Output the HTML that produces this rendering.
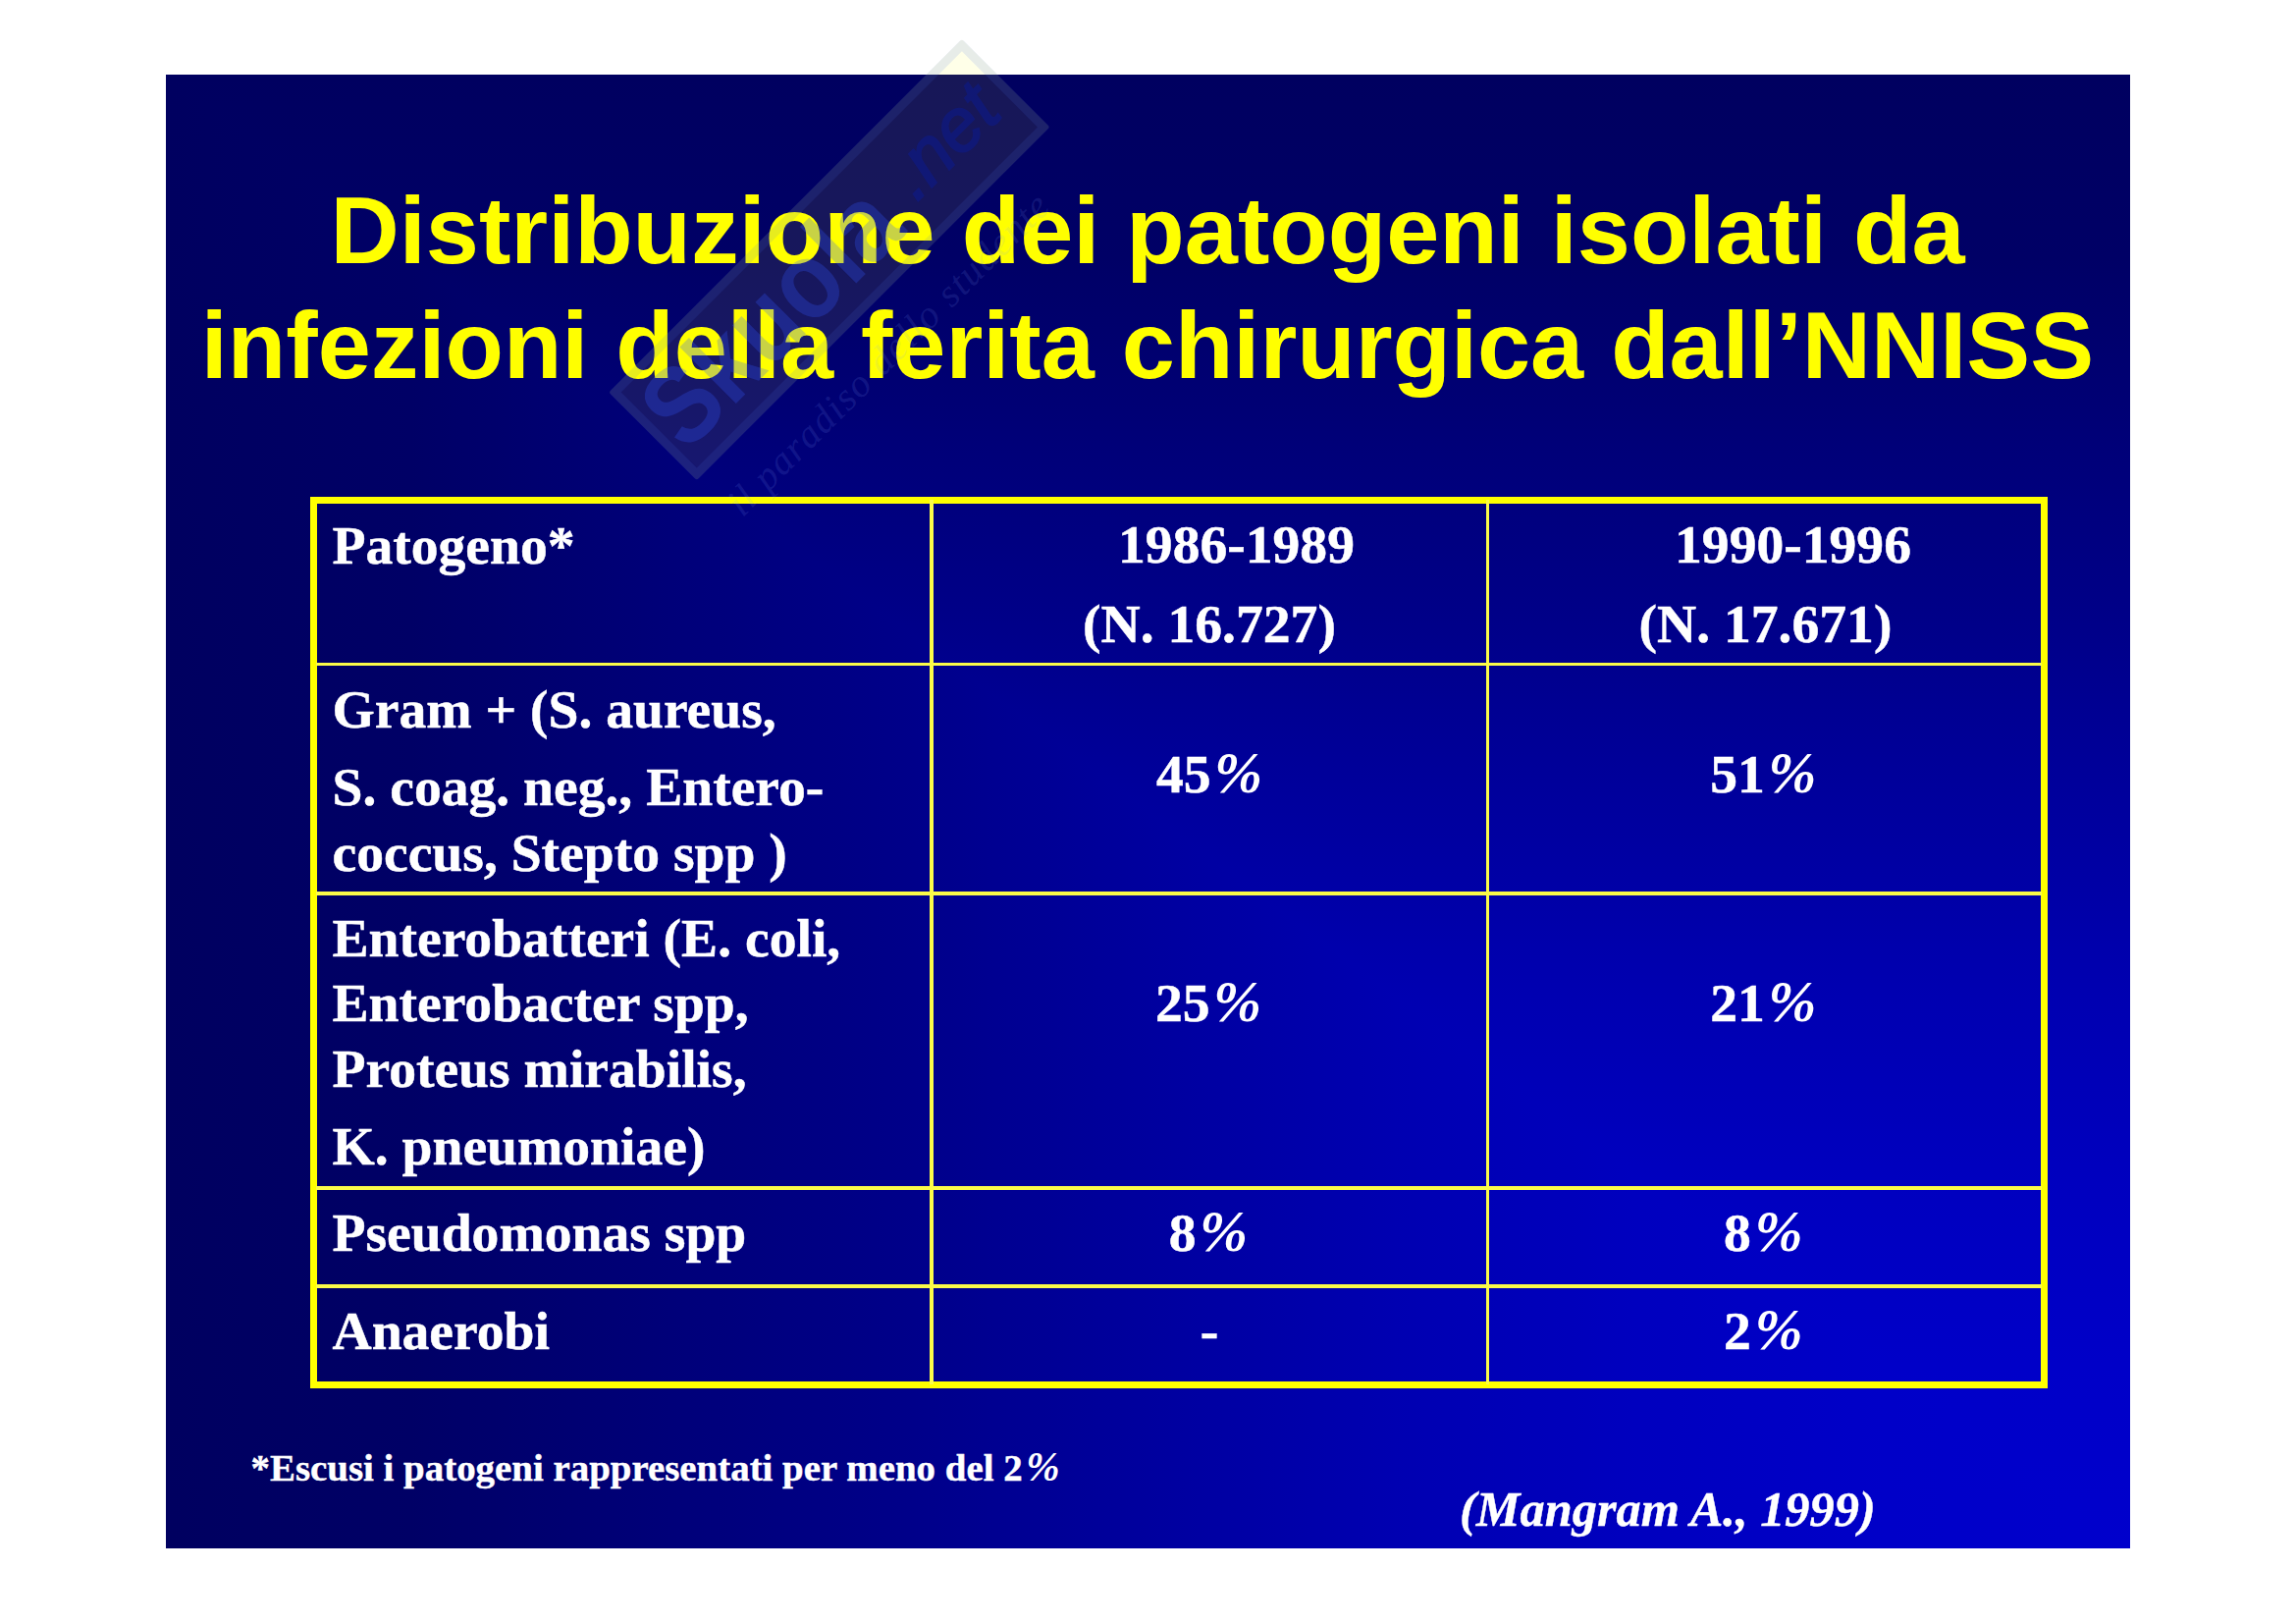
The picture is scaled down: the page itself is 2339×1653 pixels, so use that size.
<!DOCTYPE html>
<html><head><meta charset="utf-8"><title>Distribuzione dei patogeni</title>
<style>
html,body{margin:0;padding:0;background:#fff;}
body{width:2339px;height:1653px;position:relative;overflow:hidden;font-family:"Liberation Serif",serif;}
.slide{position:absolute;left:169px;top:76px;width:2001px;height:1501px;background:#000060;overflow:hidden;}
.g1,.g2{position:absolute;left:0;top:0;width:100%;height:100%;}
.g1{background:linear-gradient(to right,#000060 0%,#000066 12.5%,#000078 25%,#000089 37.5%,#00009e 50%,#0000b1 62.5%,#0000bf 75%,#0000c8 87.5%,#0000cc 100%);}
.g2{background:linear-gradient(to bottom,#000060 0%,#000066 12.5%,#000078 25%,#000089 37.5%,#00009e 50%,#0000b1 62.5%,#0000bf 75%,#0000c8 87.5%,#0000cc 100%);clip-path:polygon(0 0,100% 0,100% 100%);}
.title{position:absolute;left:169px;top:175.6px;width:2000px;text-align:center;font-family:"Liberation Sans",sans-serif;font-weight:bold;font-size:97.3px;line-height:117.0px;color:#ffff00;white-space:nowrap;}
.tbl{position:absolute;left:316px;top:506.4px;width:1770px;height:907.5px;box-sizing:border-box;border:7px solid #ffff00;}
.v,.h{position:absolute;background:#fbfb48;}
.v{width:3.4px;top:509px;height:901px;}
.h{height:3.4px;left:322px;width:1758px;}
.c{position:absolute;font-family:"Liberation Serif",serif;font-weight:bold;font-size:55.6px;line-height:66.7px;color:#fff;white-space:nowrap;-webkit-text-stroke:0.5px #fff;}
.c.m{width:600px;text-align:center;}
.c i,.fn i{font-style:italic;font-size:1.06em;margin-left:3.5px;line-height:0;-webkit-text-stroke:0;}
.fn{position:absolute;left:255.5px;top:1471.6px;font-family:"Liberation Serif",serif;font-weight:bold;font-size:38.9px;line-height:46px;color:#fff;white-space:nowrap;-webkit-text-stroke:0.4px #fff;}
.ref{position:absolute;left:1487px;top:1506.8px;font-family:"Liberation Serif",serif;font-weight:bold;font-style:italic;font-size:50.4px;line-height:60px;color:#fff;white-space:nowrap;-webkit-text-stroke:0.4px #fff;}
.wm{position:absolute;left:842px;top:268px;width:0;height:0;transform:rotate(-45deg);}
.band{position:absolute;left:-250px;top:-64px;width:509px;height:127px;box-sizing:border-box;border:9px solid rgba(70,110,230,.13);background:rgba(255,255,0,.09);border-radius:3px;}
.sk{position:absolute;left:-238px;top:-60px;font-family:"Liberation Sans",sans-serif;font-weight:bold;font-size:112px;line-height:116px;color:rgba(50,90,255,.27);transform:scaleX(.87);transform-origin:left center;white-space:nowrap;}
.net{position:absolute;left:108px;top:-50px;font-family:"Liberation Sans",sans-serif;font-weight:normal;font-style:italic;font-size:76px;-webkit-text-stroke:2px #001ec8;opacity:.26;line-height:90px;color:#001ec8;white-space:nowrap;}
.sub{position:absolute;left:-244px;top:88px;width:488px;font-family:"Liberation Serif",serif;font-style:italic;font-size:40px;line-height:44px;color:rgba(130,160,255,.14);letter-spacing:1.5px;white-space:nowrap;}
</style></head>
<body>
<div class="slide"><div class="g1"></div><div class="g2"></div></div>
<div class="title">Distribuzione dei patogeni isolati da<br><span style="word-spacing:0.9px">infezioni della ferita chirurgica dall’NNISS</span></div>
<div class="tbl"></div>
<div class="v" style="left:947.3px"></div>
<div class="v" style="left:1513.9px"></div>
<div class="h" style="top:674.8px"></div>
<div class="h" style="top:908.3px"></div>
<div class="h" style="top:1208.3px"></div>
<div class="h" style="top:1308.3px"></div>
<div class="c" style="left:338.5px;top:521.5px;">Patogeno*</div>
<div class="c m" style="left:959.5px;top:521.1px;">1986-1989</div>
<div class="c m" style="left:932.0px;top:602.2px;">(N. 16.727)</div>
<div class="c m" style="left:1526.5px;top:521.1px;">1990-1996</div>
<div class="c m" style="left:1498.5px;top:602.2px;">(N. 17.671)</div>
<div class="c" style="left:338.5px;top:688.7px;">Gram + (S. aureus,</div>
<div class="c" style="left:338.5px;top:768.2px;">S. coag. neg., Entero-</div>
<div class="c" style="left:338.5px;top:834.9px;">coccus, Stepto spp )</div>
<div class="c m" style="left:932.0px;top:754.9px;">45<i>%</i></div>
<div class="c m" style="left:1496.3px;top:754.9px;">51<i>%</i></div>
<div class="c" style="left:338.5px;top:922.0px;">Enterobatteri (E. coli,</div>
<div class="c" style="left:338.5px;top:987.6px;">Enterobacter spp,</div>
<div class="c" style="left:338.5px;top:1054.6px;">Proteus mirabilis,</div>
<div class="c" style="left:338.5px;top:1133.7px;">K. pneumoniae)</div>
<div class="c m" style="left:931.0px;top:987.9px;">25<i>%</i></div>
<div class="c m" style="left:1496.3px;top:987.9px;">21<i>%</i></div>
<div class="c" style="left:338.5px;top:1221.7px;">Pseudomonas spp</div>
<div class="c m" style="left:931.0px;top:1222.1px;">8<i>%</i></div>
<div class="c m" style="left:1496.3px;top:1222.1px;">8<i>%</i></div>
<div class="c" style="left:338.5px;top:1321.7px;">Anaerobi</div>
<div class="c m" style="left:932.0px;top:1321.7px;">-</div>
<div class="c m" style="left:1496.3px;top:1321.9px;">2<i>%</i></div>
<div class="fn">*Escusi i patogeni rappresentati per meno del 2<i>%</i></div>
<div class="ref">(Mangram A., 1999)</div>
<div class="wm">
<div class="band"></div>
<div class="sk">Skuola</div>
<div class="net">.net</div>
<div class="sub">il paradiso dello studente</div>
</div>
</body></html>
